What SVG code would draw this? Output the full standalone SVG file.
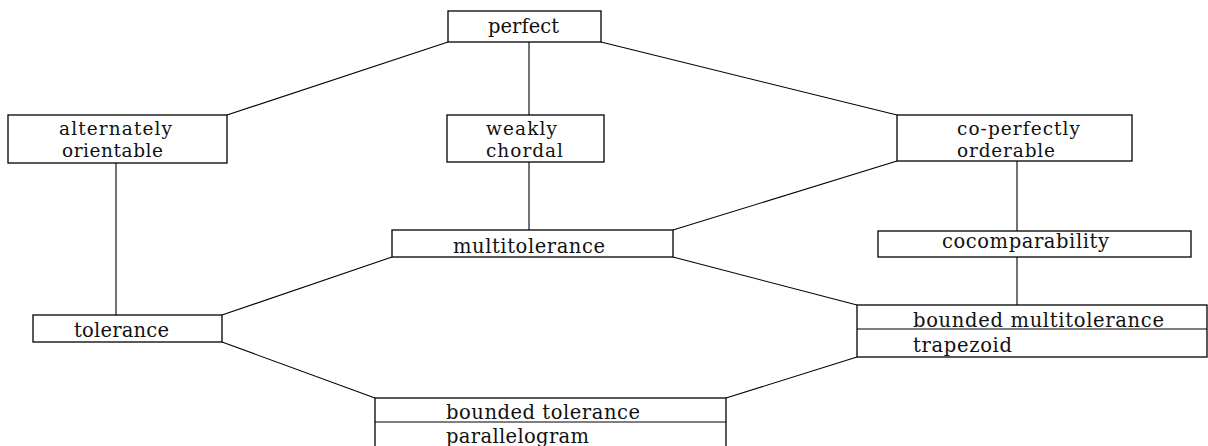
<svg xmlns="http://www.w3.org/2000/svg" width="1208" height="446" viewBox="0 0 1208 446">
<style>
rect{fill:#fff;stroke:#000;stroke-width:1.3}
line{stroke:#000;stroke-width:1.1}
text{font-family:'DejaVu Serif','Liberation Serif',serif;font-size:19.5px;fill:#111}
text.two{font-size:18.5px}
</style>
<rect x="0" y="0" width="1208" height="446" style="stroke:none"/>
<g id="connectors">
<line x1="448" y1="42" x2="227" y2="115"/>
<line x1="529" y1="42" x2="529" y2="115"/>
<line x1="601" y1="42" x2="897" y2="115"/>
<line x1="116" y1="163" x2="116" y2="315"/>
<line x1="529" y1="162" x2="529" y2="230"/>
<line x1="897" y1="161" x2="673" y2="230"/>
<line x1="1017" y1="161" x2="1017" y2="231"/>
<line x1="1017" y1="257" x2="1017" y2="305"/>
<line x1="673" y1="257" x2="857" y2="305"/>
<line x1="392" y1="257" x2="222" y2="315"/>
<line x1="222" y1="342" x2="375" y2="398"/>
<line x1="857" y1="357" x2="726" y2="398"/>
</g>
<g id="perfect">
<rect x="448" y="11" width="153" height="31"/>
<text x="488" y="33" textLength="71">perfect</text>
</g>
<g id="alternately-orientable">
<rect x="8" y="115" width="219" height="48"/>
<text class="two" x="59" y="135" textLength="113">alternately</text>
<text class="two" x="62" y="157" textLength="101">orientable</text>
</g>
<g id="weakly-chordal">
<rect x="447" y="115" width="157" height="47"/>
<text class="two" x="486" y="135" textLength="71">weakly</text>
<text class="two" x="486" y="157" textLength="77">chordal</text>
</g>
<g id="co-perfectly-orderable">
<rect x="897" y="115" width="235" height="46"/>
<text class="two" x="957" y="135" textLength="123">co-perfectly</text>
<text class="two" x="957" y="157" textLength="98">orderable</text>
</g>
<g id="multitolerance">
<rect x="392" y="230" width="281" height="27"/>
<text x="453" y="253" textLength="152">multitolerance</text>
</g>
<g id="cocomparability">
<rect x="878" y="231" width="313" height="26"/>
<text x="942" y="248" textLength="167">cocomparability</text>
</g>
<g id="tolerance">
<rect x="33" y="315" width="189" height="27"/>
<text x="74" y="337" textLength="95">tolerance</text>
</g>
<g id="bounded-multitolerance">
<rect x="857" y="305" width="350" height="52"/>
<line x1="857" y1="329" x2="1207" y2="329"/>
<text x="913" y="327" textLength="251">bounded multitolerance</text>
<text x="913" y="352" textLength="99">trapezoid</text>
</g>
<g id="bounded-tolerance">
<rect x="375" y="398" width="351" height="70"/>
<line x1="375" y1="422" x2="726" y2="422"/>
<text x="446" y="419" textLength="194">bounded tolerance</text>
<text x="446" y="443" textLength="143">parallelogram</text>
</g>
</svg>
